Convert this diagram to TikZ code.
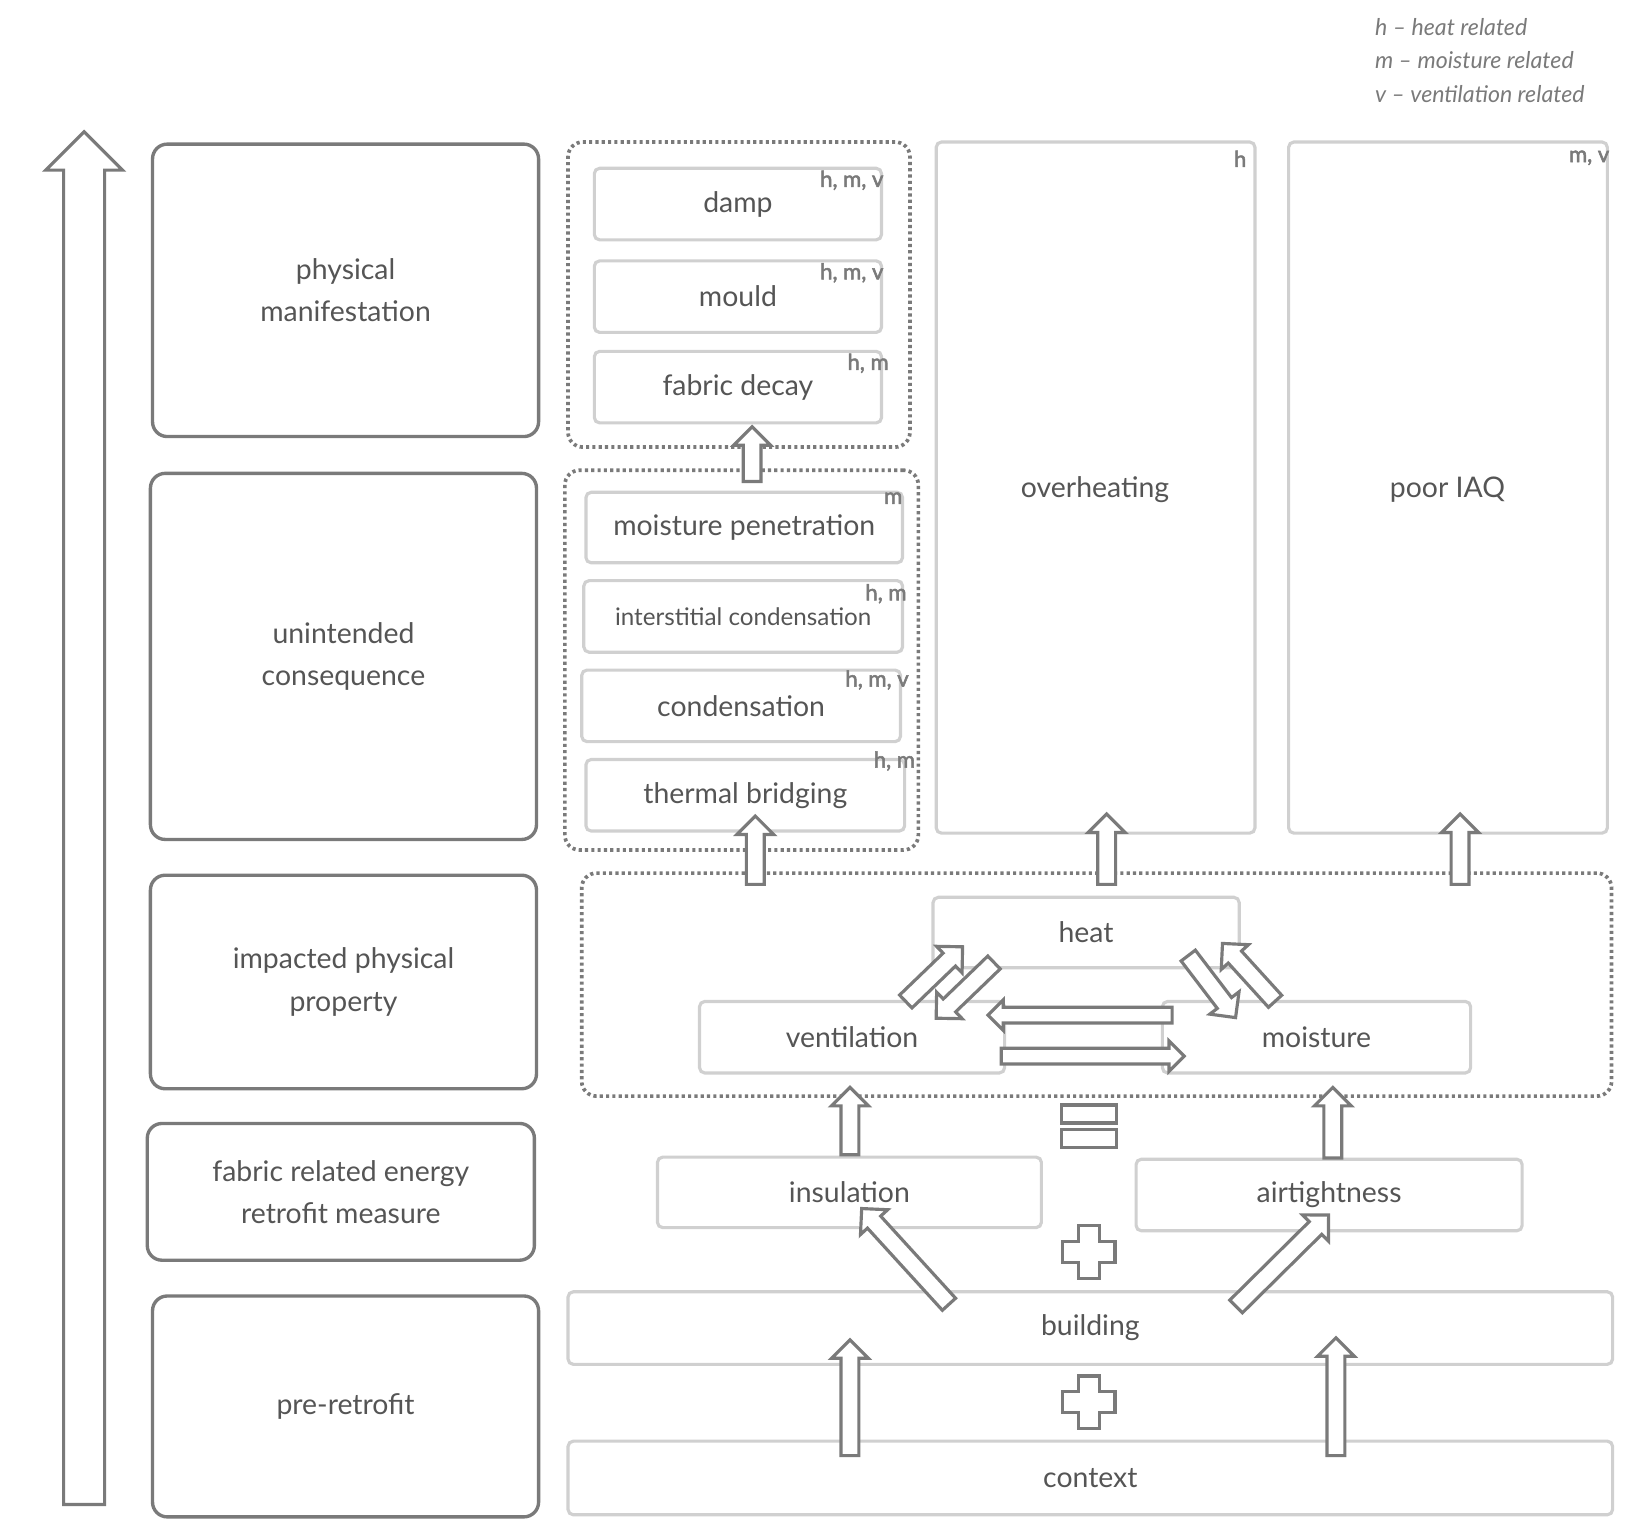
\documentclass[tikz,border=0pt]{standalone}
\usepackage{fontspec}
\setmainfont{Lato}
\newfontfamily\tagfnt{Lato}[FakeBold=2.5]
\usetikzlibrary{calc,shapes.arrows}
\definecolor{dk}{HTML}{7A7A7A}
\definecolor{lt}{HTML}{D0D0D0}
\definecolor{tx}{HTML}{555555}
\tikzset{
 base/.style={inner sep=0pt,text=tx,font=\fontsize{27}{40}\selectfont,align=center},
 dbox/.style={base,draw=dk,line width=3.2pt,rounded corners=14pt},
 lbox/.style={base,draw=lt,line width=3pt,rounded corners=5pt},
 dot/.style={draw=dk,line width=3.5pt,dash pattern=on 3pt off 3pt,rounded corners=14pt},
 tag/.style={text=dk,font=\tagfnt\fontsize{21}{24}\selectfont,anchor=north east,inner sep=0pt},
 sar/.style={single arrow,draw=dk,line width=3pt,fill=white,inner xsep=0pt,inner ysep=7pt,single arrow head extend=9pt,single arrow head indent=0pt},
}
\newcommand\bx[7]{\node[#6,minimum width={(#4)-(#2)},minimum height={(#5)-(#3)}] (#1) at ({((#2)+(#4))/2},{((#3)+(#5))/2}) {#7};}
\newcommand\barr[3][sar]{\path let \p1=(#2), \p2=(#3), \n1={atan2(\y2-\y1,\x2-\x1)}, \n2={veclen(\x2-\x1,\y2-\y1)} in node[#1,rotate=\n1,minimum height=\n2] at ($(#2)!0.5!(#3)$) {} ;}
\begin{document}
\begin{tikzpicture}[x=1pt,y=-1pt]
\useasboundingbox (0,0) rectangle (1560,1462);
\coordinate (la) at (80,1440); \coordinate (lb) at (80,135);
\barr[sar,inner ysep=18pt,single arrow head extend=17pt]{la}{lb}
\bx{pm}{145}{137}{512}{415}{dbox}{physical\\manifestation}
\bx{uc}{143}{450}{510}{798}{dbox}{unintended\\consequence}
\bx{ip}{143}{832}{510}{1035}{dbox}{impacted physical\\property}
\bx{fr}{140}{1068}{508}{1198}{dbox}{fabric related energy\\retrofit measure}
\bx{pr}{145}{1232}{512}{1442}{dbox}{pre-retrofit}
\node[text=dk,font=\itshape\fontsize{22}{32}\selectfont,align=left,anchor=north west,inner sep=0pt] (leg) at (1307,17) {h -- heat related\\m -- moisture related\\v -- ventilation related};
\bx{g1}{540}{135}{865}{425}{dot}{}
\bx{damp}{565}{160}{838}{228}{lbox}{damp} \node[tag] (t1) at (840,162) {h, m, v};
\bx{mould}{565}{248}{838}{316}{lbox}{mould} \node[tag] (t2) at (840,250) {h, m, v};
\bx{fd}{565}{334}{838}{402}{lbox}{fabric decay} \node[tag] (t3) at (845,336) {h, m};
\bx{g2}{537}{447}{873}{808}{dot}{}
\bx{mp}{557}{468}{858}{535}{lbox}{moisture penetration} \node[tag] (t4) at (858,468) {m};
\bx{ic}{555}{552}{858}{620}{lbox,font=\fontsize{23}{28}\selectfont}{interstitial condensation} \node[tag] (t5) at (862,555) {h, m};
\bx{co}{553}{637}{856}{705}{lbox}{condensation} \node[tag] (t6) at (864,637) {h, m, v};
\bx{tb}{557}{722}{860}{790}{lbox}{thermal bridging} \node[tag] (t7) at (870,714) {h, m};
\coordinate (a1) at (715,462); \coordinate (b1) at (715,410); \barr{a1}{b1}
\bx{oh}{890}{135}{1193}{792}{lbox}{} \node[base] (ohl) at (1041,465) {overheating}; \node[tag] (t8) at (1185,143) {h};
\bx{iaq}{1225}{135}{1528}{792}{lbox}{} \node[base] (iaql) at (1376,465) {poor IAQ}; \node[tag] (t9) at (1530,143) {m, v};
\bx{g3}{553}{830}{1532}{1042}{dot}{}
\coordinate (a2) at (718,845); \coordinate (b2) at (718,780); \barr{a2}{b2}
\coordinate (a3) at (1052,845); \coordinate (b3) at (1052,778); \barr{a3}{b3}
\coordinate (a4) at (1388,845); \coordinate (b4) at (1388,778); \barr{a4}{b4}
\bx{heat}{887}{853}{1178}{920}{lbox}{heat}
\bx{vent}{665}{952}{955}{1020}{lbox}{ventilation}
\bx{moist}{1105}{952}{1398}{1020}{lbox}{moisture}
\coordinate (c1) at (858,955); \coordinate (d1) at (912,903); \barr{c1}{d1}
\coordinate (c2) at (948,912); \coordinate (d2) at (893,965); \barr{c2}{d2}
\coordinate (c3) at (1127,905); \coordinate (d3) at (1172,964); \barr{c3}{d3}
\coordinate (c4) at (1215,955); \coordinate (d4) at (1165,900); \barr{c4}{d4}
\coordinate (c5) at (1118,965); \coordinate (d5) at (943,965); \barr[sar,inner ysep=6pt,single arrow head extend=7pt]{c5}{d5}
\coordinate (c6) at (948,1004); \coordinate (d6) at (1122,1004); \barr[sar,inner ysep=6pt,single arrow head extend=7pt]{c6}{d6}
\node[draw=dk,line width=3pt,minimum width=52pt,minimum height=17pt,inner sep=0pt] (eq1) at (1035,1059) {};
\node[draw=dk,line width=3pt,minimum width=52pt,minimum height=17pt,inner sep=0pt] (eq2) at (1035,1082) {};
\bx{ins}{625}{1100}{990}{1167}{lbox}{insulation}
\bx{air}{1080}{1102}{1447}{1170}{lbox}{airtightness}
\coordinate (e1) at (808,1102); \coordinate (f1) at (808,1038); \barr{e1}{f1}
\coordinate (e2) at (1267,1105); \coordinate (f2) at (1267,1038); \barr{e2}{f2}
\foreach \yy in {1190,1333}{
 \draw[dk,line width=3pt,fill=white] (1025,\yy-25) -- (1045,\yy-25) -- (1045,\yy-10) -- (1060,\yy-10) -- (1060,\yy+10) -- (1045,\yy+10) -- (1045,\yy+25) -- (1025,\yy+25) -- (1025,\yy+10) -- (1010,\yy+10) -- (1010,\yy-10) -- (1025,\yy-10) -- cycle;}
\bx{bld}{540}{1228}{1533}{1297}{lbox}{building}
\bx{ctx}{540}{1370}{1533}{1440}{lbox}{context}
\coordinate (g1a) at (905,1243); \coordinate (g1b) at (822,1152); \barr{g1a}{g1b}
\coordinate (g2a) at (1172,1245); \coordinate (g2b) at (1260,1158); \barr{g2a}{g2b}
\coordinate (h1a) at (808,1388); \coordinate (h1b) at (808,1278); \barr{h1a}{h1b}
\coordinate (h2a) at (1270,1388); \coordinate (h2b) at (1270,1276); \barr{h2a}{h2b}
\end{tikzpicture}
\end{document}
